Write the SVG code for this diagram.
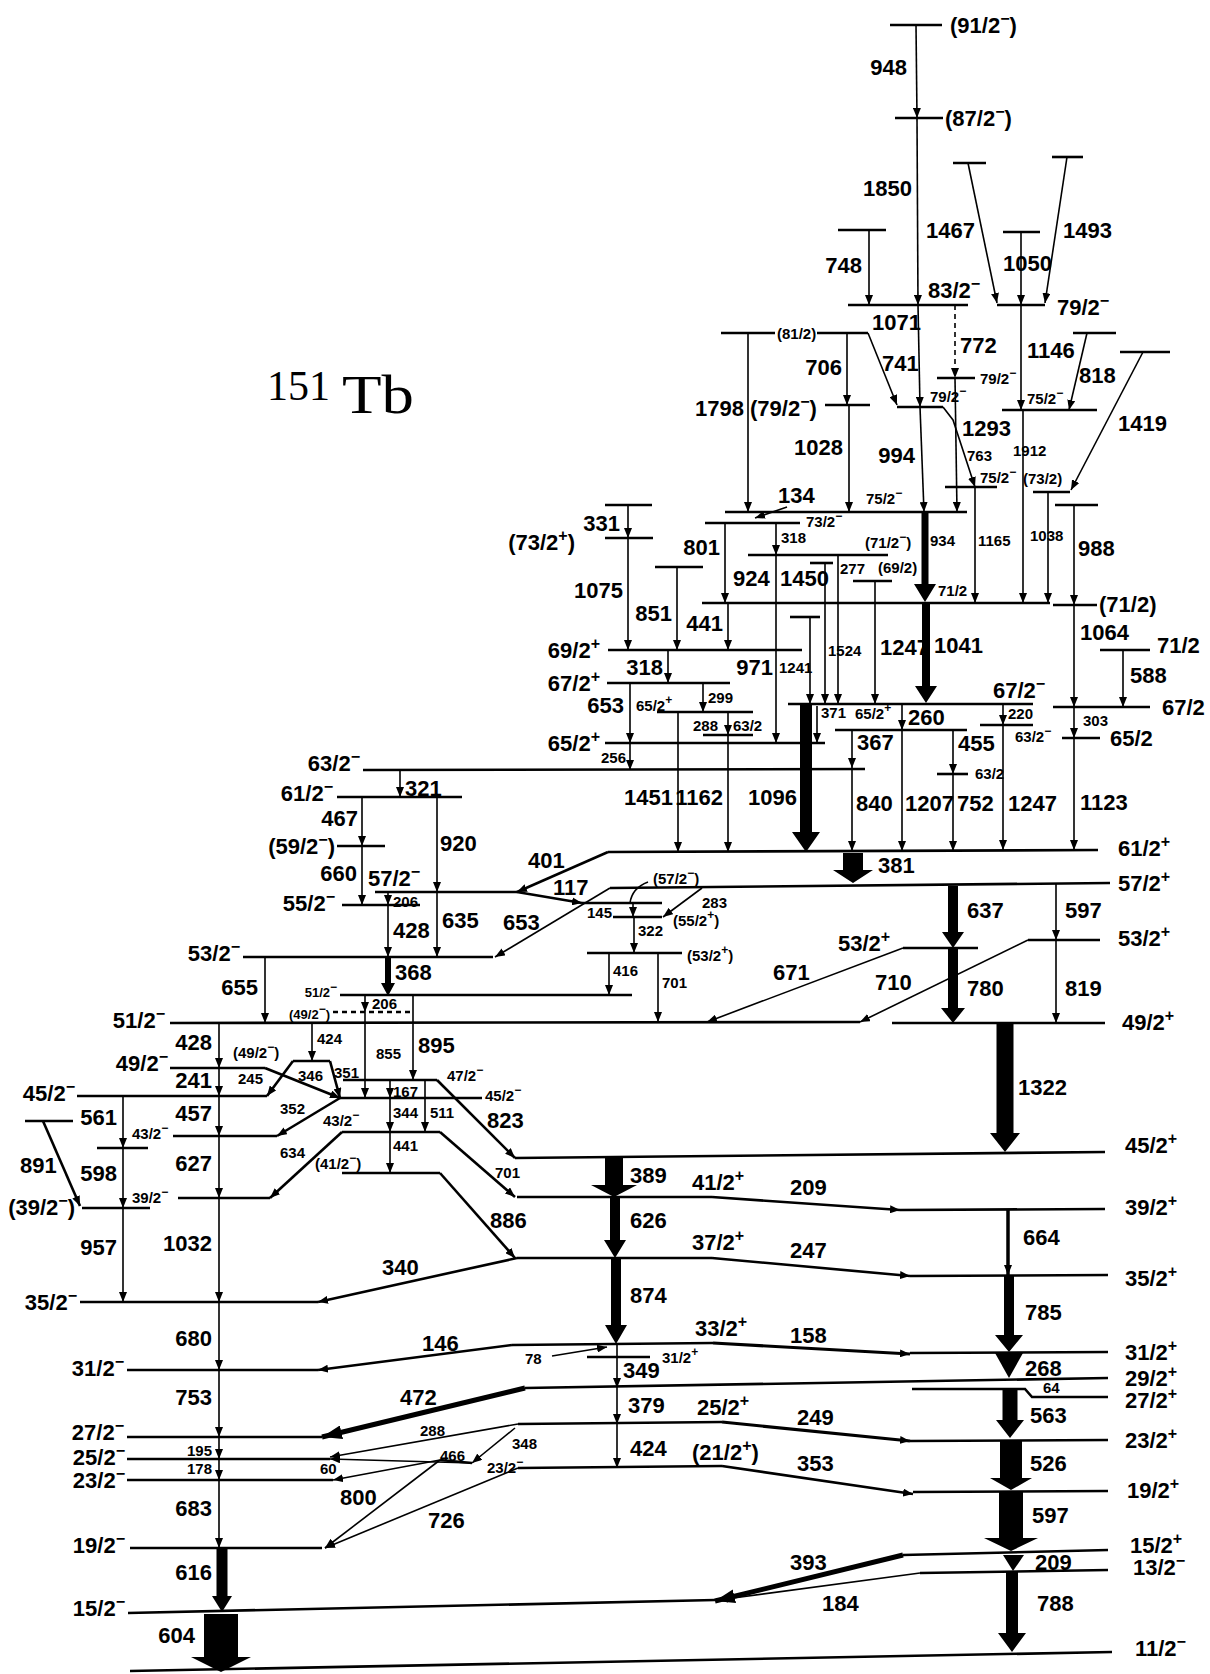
<svg xmlns="http://www.w3.org/2000/svg" width="1210" height="1674" viewBox="0 0 1210 1674">
<defs>
<marker id="a" markerUnits="userSpaceOnUse" markerWidth="10" markerHeight="8" refX="10" refY="4" orient="auto"><path d="M0,0L10,4L0,8z" fill="#000"/></marker>
<marker id="A" markerUnits="userSpaceOnUse" markerWidth="20" markerHeight="14" refX="20" refY="7" orient="auto"><path d="M0,0L20,7L0,14z" fill="#000"/></marker>
<style>
.l{stroke:#000;stroke-width:2.6;fill:none}
.t{stroke:#000;stroke-width:1.6;fill:none;marker-end:url(#a)}
.m{stroke:#000;stroke-width:2.6;fill:none;marker-end:url(#a)}
.k{stroke:#000;stroke-width:5;fill:none;marker-end:url(#A)}
.d{stroke-dasharray:5,4}
.p{stroke:#000;stroke-width:1.6;fill:none}
.f{fill:#000;stroke:none}
text{font-family:"Liberation Sans Narrow","Liberation Sans",Arial,sans-serif;font-weight:bold;fill:#000;dominant-baseline:central}
.n{font-size:22px}
.s{font-size:15px}
.x{font-size:13px}
.e{text-anchor:end}
.u{font-size:16px}
.v{font-size:12px}
.ti{font-family:"Liberation Serif","Times New Roman",serif;font-weight:normal;dominant-baseline:auto}
</style>
</defs>
<rect width="1210" height="1674" fill="#fff"/>
<g id="title"><text class="ti" x="267" y="400" font-size="42">151</text><text class="ti" x="342" y="413" font-size="55" textLength="72" lengthAdjust="spacingAndGlyphs">Tb</text></g>

<g id="levels">
<g id="L91"><path class="l" d="M890,25H942"/><text class="n" x="950" y="25">(91/2<tspan class="u" dy="-7">−</tspan><tspan dy="7">)</tspan></text></g>
<g id="L87"><path class="l" d="M895,118H943"/><text class="n" x="945" y="118">(87/2<tspan class="u" dy="-7">−</tspan><tspan dy="7">)</tspan></text></g>
<g id="L83"><path class="l" d="M848,305H968"/><text class="n" x="928" y="290">83/2<tspan class="u" dy="-7">−</tspan></text></g>
<g id="Lu748"><path class="l" d="M838,230H886"/></g>
<g id="Lu1467"><path class="l" d="M953,163H986"/></g>
<g id="Lu1493"><path class="l" d="M1052,157H1083"/></g>
<g id="Lu1050"><path class="l" d="M1003,232H1040"/></g>
<g id="L79b"><path class="l" d="M997,305H1045"/><text class="n" x="1057" y="307">79/2<tspan class="u" dy="-7">−</tspan></text></g>
<g id="L81"><path class="l" d="M721,333H775M817,333H868"/><text class="s" x="777" y="333">(81/2)</text></g>
<g id="Lu818"><path class="l" d="M1073,333H1116"/></g>
<g id="Lu1419"><path class="l" d="M1120,352H1170"/></g>
<g id="L79s"><path class="l" d="M937,378H975"/><text class="s" x="980" y="378">79/2<tspan class="v" dy="-5">−</tspan></text></g>
<g id="L79l"><path class="l" d="M825,405H870"/><text class="n" x="750" y="408">(79/2<tspan class="u" dy="-7">−</tspan><tspan dy="7">)</tspan></text></g>
<g id="L79m"><path class="l" d="M897,407H943"/><text class="s" x="930" y="396">79/2<tspan class="v" dy="-5">−</tspan></text></g>
<g id="L75r"><path class="l" d="M1002,410H1097"/><text class="s" x="1027" y="398">75/2<tspan class="v" dy="-5">−</tspan></text></g>
<g id="L75s"><path class="l" d="M945,487H997"/><text class="s" x="980" y="477">75/2<tspan class="v" dy="-5">−</tspan></text></g>
<g id="L73p"><path class="l" d="M1033,492H1070"/><text class="s" x="1023" y="478">(73/2)</text></g>
<g id="Lu988"><path class="l" d="M1055,505H1098"/></g>
<g id="L75m"><path class="l" d="M725,512H967"/><text class="s" x="866" y="498">75/2<tspan class="v" dy="-5">−</tspan></text></g>
<g id="L73m"><path class="l" d="M705,523H800"/><text class="s" x="806" y="521">73/2<tspan class="v" dy="-5">−</tspan></text></g>
<g id="Lu331"><path class="l" d="M605,505H652"/></g>
<g id="L73pp"><path class="l" d="M605,538H653"/><text class="n e" x="575" y="542">(73/2<tspan class="u" dy="-7">+</tspan><tspan dy="7">)</tspan></text></g>
<g id="L71m"><path class="l" d="M748,555H888"/><text class="s" x="865" y="542">(71/2<tspan class="v" dy="-5">−</tspan><tspan dy="5">)</tspan></text></g>
<g id="Lu1524"><path class="l" d="M810,563H833"/></g>
<g id="Lu851"><path class="l" d="M655,567H703"/></g>
<g id="L69p"><path class="l" d="M853,581H892"/><text class="s" x="878" y="567">(69/2)</text></g>
<g id="L71"><path class="l" d="M702,603H1050"/><text class="s" x="938" y="590">71/2</text></g>
<g id="L71r"><path class="l" d="M1053,605H1097"/><text class="n" x="1099" y="604">(71/2)</text></g>
<g id="Lu1241"><path class="l" d="M790,617H820"/></g>
<g id="L69"><path class="l" d="M608,650H802"/><text class="n e" x="600" y="650">69/2<tspan class="u" dy="-7">+</tspan></text></g>
<g id="L71rr"><path class="l" d="M1100,650H1150"/><text class="n" x="1157" y="645">71/2</text></g>
<g id="L67p"><path class="l" d="M607,683H730"/><text class="n e" x="600" y="683">67/2<tspan class="u" dy="-7">+</tspan></text></g>
<g id="L67m"><path class="l" d="M788,704H1033"/><text class="n" x="993" y="690">67/2<tspan class="u" dy="-7">−</tspan></text></g>
<g id="L67r"><path class="l" d="M1053,707H1150"/><text class="n" x="1162" y="707">67/2</text></g>
<g id="L65s"><path class="l" d="M657,712H753"/><text class="s" x="636" y="705">65/2<tspan class="v" dy="-5">+</tspan></text></g>
<g id="L63s"><path class="l" d="M703,735H753"/><text class="s" x="733" y="725">63/2</text></g>
<g id="L65m"><path class="l" d="M835,730H967"/><text class="s" x="855" y="713">65/2<tspan class="v" dy="-5">+</tspan></text></g>
<g id="L63m"><path class="l" d="M980,725H1033"/><text class="s" x="1015" y="736">63/2<tspan class="v" dy="-5">−</tspan></text></g>
<g id="L65r"><path class="l" d="M1062,738H1100"/><text class="n" x="1110" y="738">65/2</text></g>
<g id="L65"><path class="l" d="M605,743H825"/><text class="n e" x="600" y="743">65/2<tspan class="u" dy="-7">+</tspan></text></g>
<g id="L63t"><path class="l" d="M937,774H968"/><text class="s" x="975" y="773">63/2</text></g>
<g id="L63"><path class="l" d="M363,770L865,769"/><text class="n e" x="360" y="763">63/2<tspan class="u" dy="-7">−</tspan></text></g>
<g id="L61m"><path class="l" d="M337,797H462"/><text class="n e" x="333" y="793">61/2<tspan class="u" dy="-7">−</tspan></text></g>
<g id="L59"><path class="l" d="M337,846H385"/><text class="n e" x="335" y="846">(59/2<tspan class="u" dy="-7">−</tspan><tspan dy="7">)</tspan></text></g>
<g id="L61p"><path class="l" d="M608,852L1098,850"/><text class="n" x="1118" y="848">61/2<tspan class="u" dy="-7">+</tspan></text></g>
<g id="L57m"><path class="l" d="M375,892H517"/><text class="n" x="368" y="878">57/2<tspan class="u" dy="-7">−</tspan></text></g>
<g id="L57p"><path class="l" d="M610,888L1110,883"/><text class="n" x="1118" y="883">57/2<tspan class="u" dy="-7">+</tspan></text></g>
<g id="L57q"><path class="l" d="M582,903H662"/><path class="p" d="M648,882Q632,888 630,903"/><text class="s" x="653" y="878">(57/2<tspan class="v" dy="-5">−</tspan><tspan dy="5">)</tspan></text></g>
<g id="L55m"><path class="l" d="M342,905H420"/><text class="n e" x="335" y="903">55/2<tspan class="u" dy="-7">−</tspan></text></g>
<g id="L55p"><path class="l" d="M613,917H662"/><text class="s" x="673" y="920">(55/2<tspan class="v" dy="-5">+</tspan><tspan dy="5">)</tspan></text></g>
<g id="L53r"><path class="l" d="M1028,940H1100"/><text class="n" x="1118" y="938">53/2<tspan class="u" dy="-7">+</tspan></text></g>
<g id="L53l"><path class="l" d="M903,948H978"/><text class="n" x="838" y="943">53/2<tspan class="u" dy="-7">+</tspan></text></g>
<g id="L53q"><path class="l" d="M587,953H682"/><text class="s" x="687" y="955">(53/2<tspan class="v" dy="-5">+</tspan><tspan dy="5">)</tspan></text></g>
<g id="L53m"><path class="l" d="M243,957H493"/><text class="n e" x="240" y="953">53/2<tspan class="u" dy="-7">−</tspan></text></g>
<g id="L51s"><path class="l" d="M340,995H632"/><text class="x e" x="337" y="992">51/2<tspan class="v" dy="-5">−</tspan></text></g>
<g id="L49d"><path class="l d" d="M333,1012H410"/><text class="x e" x="330" y="1014">(49/2<tspan class="v" dy="-5">−</tspan><tspan dy="5">)</tspan></text></g>
<g id="L51"><path class="l" d="M170,1023L860,1022"/><text class="n e" x="165" y="1020">51/2<tspan class="u" dy="-7">−</tspan></text></g>
<g id="L49p"><path class="l" d="M892,1023H1105"/><text class="n" x="1122" y="1022">49/2<tspan class="u" dy="-7">+</tspan></text></g>
<g id="L49q"><path class="l" d="M293,1061H330"/><text class="s" x="233" y="1052">(49/2<tspan class="v" dy="-5">−</tspan><tspan dy="5">)</tspan></text></g>
<g id="L49m"><path class="l" d="M170,1068H265"/><text class="n e" x="168" y="1063">49/2<tspan class="u" dy="-7">−</tspan></text></g>
<g id="L47m"><path class="l" d="M343,1080H437"/><text class="s" x="447" y="1075">47/2<tspan class="v" dy="-5">−</tspan></text></g>
<g id="L45m"><path class="l" d="M77,1096H267"/><text class="n e" x="75" y="1093">45/2<tspan class="u" dy="-7">−</tspan></text></g>
<g id="L45s"><path class="l" d="M340,1098H482"/><text class="s" x="485" y="1095">45/2<tspan class="v" dy="-5">−</tspan></text></g>
<g id="Lu891"><path class="l" d="M25,1121H73"/></g>
<g id="L43r"><path class="l" d="M342,1132H440"/><text class="s" x="323" y="1120">43/2<tspan class="v" dy="-5">−</tspan></text></g>
<g id="L43l"><path class="l" d="M173,1136H277"/></g>
<g id="L43ll"><path class="l" d="M97,1148H148"/><text class="s" x="132" y="1133">43/2<tspan class="v" dy="-5">−</tspan></text></g>
<g id="L45p"><path class="l" d="M515,1158L1105,1152"/><text class="n" x="1125" y="1145">45/2<tspan class="u" dy="-7">+</tspan></text></g>
<g id="L41q"><path class="l" d="M342,1173H440"/><text class="s" x="315" y="1163">(41/2<tspan class="v" dy="-5">−</tspan><tspan dy="5">)</tspan></text></g>
<g id="L41p"><path class="l" d="M517,1197H712"/><text class="n" x="692" y="1182">41/2<tspan class="u" dy="-7">+</tspan></text></g>
<g id="L39m"><path class="l" d="M178,1198H270"/><text class="s" x="132" y="1197">39/2<tspan class="v" dy="-5">−</tspan></text></g>
<g id="L39q"><path class="l" d="M82,1208H150"/><text class="n e" x="75" y="1207">(39/2<tspan class="u" dy="-7">−</tspan><tspan dy="7">)</tspan></text></g>
<g id="L39p"><path class="l" d="M900,1210L1105,1209"/><text class="n" x="1125" y="1207">39/2<tspan class="u" dy="-7">+</tspan></text></g>
<g id="L37p"><path class="l" d="M517,1258H712"/><text class="n" x="692" y="1242">37/2<tspan class="u" dy="-7">+</tspan></text></g>
<g id="L35p"><path class="l" d="M910,1276L1108,1275"/><text class="n" x="1125" y="1278">35/2<tspan class="u" dy="-7">+</tspan></text></g>
<g id="L35m"><path class="l" d="M80,1302H318"/><text class="n e" x="77" y="1302">35/2<tspan class="u" dy="-7">−</tspan></text></g>
<g id="L33p"><path class="l" d="M512,1345L713,1343"/><text class="n" x="695" y="1328">33/2<tspan class="u" dy="-7">+</tspan></text></g>
<g id="L31s"><path class="l" d="M587,1357H650"/><text class="s" x="662" y="1357">31/2<tspan class="v" dy="-5">+</tspan></text></g>
<g id="L31p"><path class="l" d="M910,1353L1108,1352"/><text class="n" x="1125" y="1352">31/2<tspan class="u" dy="-7">+</tspan></text></g>
<g id="L31m"><path class="l" d="M127,1370H318"/><text class="n e" x="124" y="1368">31/2<tspan class="u" dy="-7">−</tspan></text></g>
<g id="L29p"><path class="l" d="M525,1388L1108,1378"/><text class="n" x="1125" y="1378">29/2<tspan class="u" dy="-7">+</tspan></text></g>
<g id="L27p"><path class="l" d="M912,1389H1025L1032,1397H1108"/><text class="n" x="1125" y="1400">27/2<tspan class="u" dy="-7">+</tspan></text></g>
<g id="L25p"><path class="l" d="M518,1424L722,1422"/><text class="n" x="697" y="1407">25/2<tspan class="u" dy="-7">+</tspan></text></g>
<g id="L27m"><path class="l" d="M127,1437H322"/><text class="n e" x="124" y="1432">27/2<tspan class="u" dy="-7">−</tspan></text></g>
<g id="L23p"><path class="l" d="M910,1441L1108,1440"/><text class="n" x="1125" y="1440">23/2<tspan class="u" dy="-7">+</tspan></text></g>
<g id="L25m"><path class="l" d="M127,1459H330"/><text class="n e" x="125" y="1457">25/2<tspan class="u" dy="-7">−</tspan></text></g>
<g id="L23s"><path class="l" d="M440,1460L472,1463"/><text class="s" x="487" y="1467">23/2<tspan class="v" dy="-5">−</tspan></text></g>
<g id="L21p"><path class="l" d="M518,1468L722,1466"/><text class="n" x="692" y="1452">(21/2<tspan class="u" dy="-7">+</tspan><tspan dy="7">)</tspan></text></g>
<g id="L23m"><path class="l" d="M127,1480H333"/><text class="n e" x="125" y="1480">23/2<tspan class="u" dy="-7">−</tspan></text></g>
<g id="L19p"><path class="l" d="M913,1492L1108,1491"/><text class="n" x="1127" y="1490">19/2<tspan class="u" dy="-7">+</tspan></text></g>
<g id="L19m"><path class="l" d="M130,1548H322"/><text class="n e" x="125" y="1545">19/2<tspan class="u" dy="-7">−</tspan></text></g>
<g id="L15p"><path class="l" d="M903,1555L1108,1550"/><text class="n" x="1130" y="1545">15/2<tspan class="u" dy="-7">+</tspan></text></g>
<g id="L13m"><path class="l" d="M920,1573L1108,1570"/><text class="n" x="1133" y="1567">13/2<tspan class="u" dy="-7">−</tspan></text></g>
<g id="L15m"><path class="l" d="M128,1613L715,1600"/><text class="n e" x="125" y="1608">15/2<tspan class="u" dy="-7">−</tspan></text></g>
<g id="L11m"><path class="l" d="M130,1671L1112,1652"/><text class="n" x="1135" y="1648">11/2<tspan class="u" dy="-7">−</tspan></text></g>
</g>

<g id="connectors">
<path class="t" d="M916,25L917,118"/>
<path class="t" d="M917,118L918,305"/>
<path class="t" d="M869,230V305"/>
<path class="t" d="M968,163L997,303"/>
<path class="t" d="M1067,157L1045,303"/>
<path class="t" d="M1021,232V305"/>
<path class="t" d="M918,305L920,407"/>
<path class="t d" d="M955,305V378"/>
<path class="t" d="M847,333V405"/>
<path class="t" d="M868,333L897,405"/>
<path class="t" d="M1021,305V410"/>
<path class="t" d="M1087,333L1069,410"/>
<path class="t" d="M1143,352L1071,490"/>
<path class="t" d="M748,333V512"/>
<path class="t" d="M849,405V512"/>
<path class="t" d="M920,407L924,512"/>
<path class="t" d="M955,378L957,512"/>
<path class="t" d="M943,407L953,420L975,487"/>
<path class="t" d="M1023,410V603"/>
<path class="t" d="M975,487V603"/>
<path class="t" d="M1048,492V603"/>
<path class="t" d="M1074,505V605"/>
<path class="t" d="M787,507L755,518"/>
<path class="t" d="M628,505V538"/>
<path class="t" d="M628,538V650"/>
<path class="t" d="M677,567V650"/>
<path class="t" d="M725,523V603"/>
<path class="t" d="M728,603V650"/>
<path class="t" d="M776,523V555"/>
<path class="t" d="M776,555V743"/>
<path class="t" d="M838,555V704"/>
<path class="t" d="M825,563V704"/>
<path class="t" d="M875,581V704"/>
<path class="t" d="M810,617V704"/>
<path class="t" d="M1074,605V707"/>
<path class="t" d="M1123,650V707"/>
<path class="t" d="M1074,707V738"/>
<path class="t" d="M1074,738V850"/>
<path class="t" d="M668,650V683"/>
<path class="t" d="M703,683V712"/>
<path class="t" d="M630,683V743"/>
<path class="t" d="M630,743V770"/>
<path class="t" d="M728,712V735"/>
<path class="t" d="M678,712V852"/>
<path class="t" d="M728,735V852"/>
<path class="t" d="M817,706V743"/>
<path class="t" d="M902,704V730"/>
<path class="t" d="M852,730V768"/>
<path class="t" d="M852,768V851"/>
<path class="t" d="M902,730V851"/>
<path class="t" d="M953,730V774"/>
<path class="t" d="M953,774V851"/>
<path class="t" d="M1003,704V725"/>
<path class="t" d="M1003,725V850"/>
<path class="t" d="M400,770V797"/>
<path class="t" d="M362,797V846"/>
<path class="t" d="M437,797V892"/>
<path class="t" d="M362,846V905"/>
<path class="t" d="M388,892V905"/>
<path class="t" d="M388,905V957"/>
<path class="t" d="M437,892V957"/>
<path class="m" d="M608,852L517,892"/>
<path class="m" d="M517,892L582,903"/>
<path class="t" d="M610,888L495,957"/>
<path class="t" d="M633,903V917"/>
<path class="t" d="M702,888L663,917"/>
<path class="t" d="M634,917V953"/>
<path class="t" d="M609,953V995"/>
<path class="t" d="M658,953V1022"/>
<path class="t" d="M903,948L707,1022"/>
<path class="t" d="M1028,940L860,1022"/>
<path class="t" d="M1056,884V940"/>
<path class="t" d="M1056,940V1023"/>
<path class="t" d="M265,957V1023"/>
<path class="t" d="M365,995V1012"/>
<path class="t" d="M365,1012V1098"/>
<path class="t" d="M413,995V1080"/>
<path class="t" d="M312,1023V1061"/>
<path class="t" d="M219,1023V1068"/>
<path class="m" d="M265,1068L340,1098"/>
<path class="m" d="M293,1061L267,1096"/>
<path class="m" d="M330,1061L340,1098"/>
<path class="t" d="M219,1068V1096"/>
<path class="t" d="M390,1080V1098"/>
<path class="t" d="M425,1080V1132"/>
<path class="m" d="M437,1080L515,1158"/>
<path class="t" d="M219,1096V1136"/>
<path class="t" d="M123,1096V1148"/>
<path class="m" d="M340,1098L277,1136"/>
<path class="t" d="M390,1098V1132"/>
<path class="m" d="M43,1121L80,1206"/>
<path class="t" d="M219,1136V1198"/>
<path class="t" d="M123,1148V1208"/>
<path class="t" d="M390,1132V1173"/>
<path class="m" d="M342,1132L270,1198"/>
<path class="m" d="M440,1132L515,1197"/>
<path class="m" d="M440,1173L515,1258"/>
<path class="m" d="M712,1197L900,1210"/>
<path class="t" d="M219,1198V1302"/>
<path class="t" d="M123,1208V1302"/>
<path class="m" style="stroke-width:3.5" d="M1008,1210V1275"/>
<path class="m" d="M712,1258L910,1276"/>
<path class="m" d="M517,1258L318,1302"/>
<path class="t" d="M219,1302V1370"/>
<path class="m" d="M512,1345L318,1370"/>
<path class="m" style="stroke-width:3.2" d="M713,1343L910,1354"/>
<path class="t" d="M552,1356L607,1347"/>
<path class="t" d="M617,1345V1388"/>
<path class="t" d="M219,1370V1437"/>
<path class="k" d="M525,1388L322,1437"/>
<path class="t" d="M617,1388V1424"/>
<path class="m" style="stroke-width:3.2" d="M722,1422L910,1441"/>
<path class="t" d="M518,1424L330,1457"/>
<path class="t" d="M515,1428L472,1463"/>
<path class="t" d="M472,1463L330,1459"/>
<path class="t" d="M219,1437V1459"/>
<path class="t" d="M219,1459V1480"/>
<path class="t" d="M617,1424V1468"/>
<path class="m" d="M722,1466L913,1494"/>
<path class="t" d="M440,1460L333,1480"/>
<path class="t" d="M440,1460L325,1548"/>
<path class="t" d="M518,1468L325,1548"/>
<path class="t" d="M219,1480V1548"/>
<path class="k" d="M903,1555L715,1601"/>
<path class="t" d="M920,1573L718,1600"/>
<g id="thick">
<polygon class="f" points="921.5,512 928.5,512 928.5,584 936,584 925,602 914,584 921.5,584"/>
<polygon class="f" points="922,603 930,603 930,686 937,686 926,703 915,686 922,686"/>
<polygon class="f" points="800,705 812,705 812,832 820,832 806,852 792,832 800,832"/>
<polygon class="f" points="843,853 863,853 863,870 873,870 853,883 833,870 843,870"/>
<polygon class="f" points="948,886 958,886 958,932 964,932 953,948 942,932 948,932"/>
<polygon class="f" points="948,949 958,949 958,1008 965,1008 953,1023 941,1008 948,1008"/>
<polygon class="f" points="996.5,1024 1013.5,1024 1013.5,1133 1020,1133 1005,1152 990,1133 996.5,1133"/>
<polygon class="f" points="385,957 391,957 391,983 395,983 388,996 381,983 385,983"/>
<polygon class="f" points="605,1158 623,1158 623,1185 637,1185 614,1197 591,1185 605,1185"/>
<polygon class="f" points="610,1198 620,1198 620,1240 626,1240 615,1258 604,1240 610,1240"/>
<polygon class="f" points="611,1259 621,1259 621,1325 627,1325 616,1344 605,1325 611,1325"/>
<polygon class="f" points="1004,1276 1014,1276 1014,1335 1023,1335 1009,1352 995,1335 1004,1335"/>
<polygon class="f" points="995,1353 1023,1353 1009,1378"/>
<polygon class="f" points="1002.5,1389 1017.5,1389 1017.5,1420 1024,1420 1010,1438 996,1420 1002.5,1420"/>
<polygon class="f" points="1000,1441 1022,1441 1022,1478 1032,1478 1011,1490 990,1478 1000,1478"/>
<polygon class="f" points="999,1492 1023,1492 1023,1538 1038,1538 1011,1551 984,1538 999,1538"/>
<polygon class="f" points="1003,1555 1024,1555 1013,1571"/>
<polygon class="f" points="1006,1572 1018,1572 1018,1633 1026,1633 1012,1652 998,1633 1006,1633"/>
<polygon class="f" points="216.5,1549 227.5,1549 227.5,1596 232,1596 222,1612 212,1596 216.5,1596"/>
<polygon class="f" points="204,1614 238,1614 238,1657 251,1657 221,1672 191,1657 204,1657"/>
</g>
</g>

<g id="gamma-labels">
<text class="n e" x="907" y="67">948</text>
<text class="n e" x="912" y="188">1850</text>
<text class="n e" x="975" y="230">1467</text>
<text class="n" x="1063" y="230">1493</text>
<text class="n e" x="862" y="265">748</text>
<text class="n" x="1003" y="263">1050</text>
<text class="n" x="872" y="322">1071</text>
<text class="n" x="960" y="345">772</text>
<text class="n" x="1027" y="350">1146</text>
<text class="n e" x="842" y="367">706</text>
<text class="n" x="882" y="363">741</text>
<text class="n" x="1079" y="375">818</text>
<text class="n e" x="744" y="408">1798</text>
<text class="n" x="1118" y="423">1419</text>
<text class="n" x="962" y="428">1293</text>
<text class="n e" x="843" y="447">1028</text>
<text class="n e" x="915" y="455">994</text>
<text class="s" x="967" y="455">763</text>
<text class="s" x="1013" y="450">1912</text>
<text class="n" x="778" y="495">134</text>
<text class="n e" x="620" y="523">331</text>
<text class="s" x="930" y="540">934</text>
<text class="s" x="978" y="540">1165</text>
<text class="s" x="1030" y="535">1038</text>
<text class="n" x="1078" y="548">988</text>
<text class="n e" x="720" y="547">801</text>
<text class="s" x="781" y="537">318</text>
<text class="n" x="733" y="578">924</text>
<text class="n" x="780" y="578">1450</text>
<text class="s" x="840" y="568">277</text>
<text class="n e" x="623" y="590">1075</text>
<text class="n e" x="672" y="613">851</text>
<text class="n e" x="723" y="623">441</text>
<text class="n" x="1080" y="632">1064</text>
<text class="s" x="828" y="650">1524</text>
<text class="n" x="880" y="647">1247</text>
<text class="n" x="934" y="645">1041</text>
<text class="n e" x="663" y="667">318</text>
<text class="n e" x="773" y="667">971</text>
<text class="s" x="779" y="667">1241</text>
<text class="n" x="1130" y="675">588</text>
<text class="n e" x="624" y="705">653</text>
<text class="s" x="708" y="697">299</text>
<text class="s" x="821" y="712">371</text>
<text class="n" x="908" y="717">260</text>
<text class="s" x="1008" y="713">220</text>
<text class="s" x="1083" y="720">303</text>
<text class="s" x="693" y="725">288</text>
<text class="n" x="857" y="742">367</text>
<text class="n" x="958" y="743">455</text>
<text class="s e" x="626" y="757">256</text>
<text class="n" x="405" y="788">321</text>
<text class="n e" x="673" y="797">1451</text>
<text class="n e" x="723" y="797">1162</text>
<text class="n" x="748" y="797">1096</text>
<text class="n" x="856" y="803">840</text>
<text class="n" x="905" y="803">1207</text>
<text class="n" x="957" y="803">752</text>
<text class="n" x="1008" y="803">1247</text>
<text class="n" x="1080" y="802">1123</text>
<text class="n e" x="358" y="818">467</text>
<text class="n" x="440" y="843">920</text>
<text class="n" x="528" y="860">401</text>
<text class="n" x="878" y="865">381</text>
<text class="n e" x="357" y="873">660</text>
<text class="n" x="553" y="887">117</text>
<text class="s" x="702" y="902">283</text>
<text class="s" x="393" y="901">206</text>
<text class="n" x="967" y="910">637</text>
<text class="n" x="1065" y="910">597</text>
<text class="s" x="587" y="912">145</text>
<text class="n" x="442" y="920">635</text>
<text class="n" x="503" y="922">653</text>
<text class="n" x="393" y="930">428</text>
<text class="s" x="638" y="930">322</text>
<text class="n" x="395" y="972">368</text>
<text class="s" x="613" y="970">416</text>
<text class="n" x="773" y="972">671</text>
<text class="s" x="662" y="982">701</text>
<text class="n" x="875" y="982">710</text>
<text class="n e" x="258" y="987">655</text>
<text class="n" x="967" y="988">780</text>
<text class="n" x="1065" y="988">819</text>
<text class="s" x="372" y="1003">206</text>
<text class="s" x="317" y="1038">424</text>
<text class="n e" x="212" y="1042">428</text>
<text class="n" x="418" y="1045">895</text>
<text class="s" x="376" y="1053">855</text>
<text class="s" x="334" y="1072">351</text>
<text class="s" x="298" y="1075">346</text>
<text class="s" x="238" y="1078">245</text>
<text class="n e" x="212" y="1080">241</text>
<text class="n" x="1018" y="1087">1322</text>
<text class="s" x="393" y="1091">167</text>
<text class="s" x="280" y="1108">352</text>
<text class="s" x="393" y="1112">344</text>
<text class="s" x="430" y="1112">511</text>
<text class="n e" x="212" y="1113">457</text>
<text class="n e" x="117" y="1117">561</text>
<text class="n" x="487" y="1120">823</text>
<text class="s" x="393" y="1145">441</text>
<text class="s" x="280" y="1152">634</text>
<text class="n e" x="212" y="1163">627</text>
<text class="n" x="20" y="1165">891</text>
<text class="n e" x="117" y="1173">598</text>
<text class="s" x="495" y="1172">701</text>
<text class="n" x="630" y="1175">389</text>
<text class="n" x="790" y="1187">209</text>
<text class="n" x="630" y="1220">626</text>
<text class="n" x="490" y="1220">886</text>
<text class="n" x="1023" y="1237">664</text>
<text class="n e" x="212" y="1243">1032</text>
<text class="n e" x="117" y="1247">957</text>
<text class="n" x="790" y="1250">247</text>
<text class="n" x="382" y="1267">340</text>
<text class="n" x="630" y="1295">874</text>
<text class="n" x="1025" y="1312">785</text>
<text class="n" x="790" y="1335">158</text>
<text class="n e" x="212" y="1338">680</text>
<text class="n" x="422" y="1343">146</text>
<text class="s" x="525" y="1358">78</text>
<text class="n" x="1025" y="1368">268</text>
<text class="n" x="623" y="1370">349</text>
<text class="s" x="1043" y="1387">64</text>
<text class="n e" x="212" y="1397">753</text>
<text class="n" x="400" y="1397">472</text>
<text class="n" x="628" y="1405">379</text>
<text class="n" x="1030" y="1415">563</text>
<text class="n" x="797" y="1417">249</text>
<text class="s" x="420" y="1430">288</text>
<text class="s" x="512" y="1443">348</text>
<text class="n" x="630" y="1448">424</text>
<text class="s e" x="212" y="1450">195</text>
<text class="s" x="440" y="1455">466</text>
<text class="n" x="1030" y="1463">526</text>
<text class="n" x="797" y="1463">353</text>
<text class="s" x="320" y="1468">60</text>
<text class="s e" x="212" y="1468">178</text>
<text class="n" x="340" y="1497">800</text>
<text class="n e" x="212" y="1508">683</text>
<text class="n" x="1032" y="1515">597</text>
<text class="n" x="428" y="1520">726</text>
<text class="n" x="790" y="1562">393</text>
<text class="n" x="1035" y="1562">209</text>
<text class="n e" x="212" y="1572">616</text>
<text class="n" x="822" y="1603">184</text>
<text class="n" x="1037" y="1603">788</text>
<text class="n e" x="195" y="1635">604</text>
</g>
</svg>
